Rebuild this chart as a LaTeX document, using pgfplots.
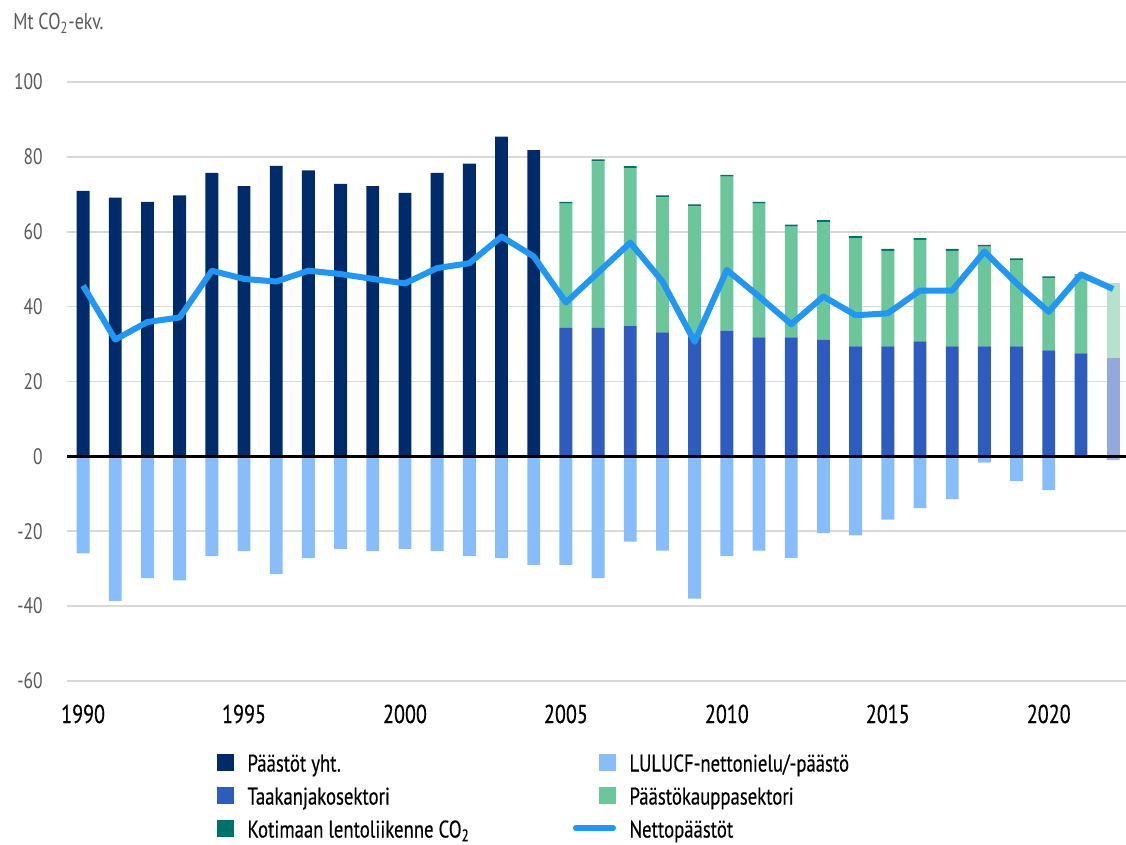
\documentclass[border=0pt]{standalone}
\usepackage{pgfplots}
\usepackage{pgfplotstable}
\pgfplotsset{compat=1.18}
\usepackage{fontspec}
\setmainfont{PT Sans}[FakeStretch=0.78]
\newfontfamily\heavy{PT Sans}[FakeStretch=0.78, FakeBold=0.4]

\definecolor{navy}{HTML}{002B6B}
\definecolor{taak}{HTML}{2D5BBE}
\definecolor{taakL}{HTML}{93A9DE}
\definecolor{paak}{HTML}{6BC69C}
\definecolor{paakL}{HTML}{B4E2CC}
\definecolor{lento}{HTML}{00706A}
\definecolor{lulu}{HTML}{88BDFB}
\definecolor{luluL}{HTML}{9DB4E6}
\definecolor{netc}{HTML}{2196F3}
\definecolor{gridc}{HTML}{D9D9D9}
\definecolor{tickgray}{HTML}{595959}

\pgfplotstableread{
year pyht taak taak22 paak paak22 lento lulucf lulucf22 netto
1990 70.9 0 0 0 0 0 -25.9 0 45.6
1991 69.1 0 0 0 0 0 -38.6 0 31.2
1992 68.0 0 0 0 0 0 -32.5 0 35.9
1993 69.7 0 0 0 0 0 -33.1 0 37.1
1994 75.7 0 0 0 0 0 -26.6 0 49.6
1995 72.2 0 0 0 0 0 -25.3 0 47.4
1996 77.6 0 0 0 0 0 -31.4 0 46.7
1997 76.4 0 0 0 0 0 -27.2 0 49.6
1998 72.8 0 0 0 0 0 -24.7 0 48.7
1999 72.2 0 0 0 0 0 -25.3 0 47.4
2000 70.4 0 0 0 0 0 -24.7 0 46.2
2001 75.7 0 0 0 0 0 -25.3 0 50.3
2002 78.2 0 0 0 0 0 -26.6 0 51.6
2003 85.4 0 0 0 0 0 -27.2 0 58.7
2004 81.8 0 0 0 0 0 -29.0 0 53.4
2005 0 34.3 0 33.2 0 0.5 -29.0 0 41.1
2006 0 34.3 0 44.5 0 0.5 -32.5 0 49.1
2007 0 34.8 0 42.2 0 0.5 -22.8 0 57.1
2008 0 33.1 0 36.1 0 0.5 -25.2 0 46.7
2009 0 31.9 0 34.9 0 0.5 -38.0 0 30.6
2010 0 33.6 0 41.1 0 0.5 -26.6 0 49.8
2011 0 31.8 0 35.7 0 0.5 -25.2 0 42.7
2012 0 31.8 0 29.6 0 0.5 -27.1 0 35.3
2013 0 31.2 0 31.4 0 0.5 -20.5 0 42.7
2014 0 29.4 0 28.9 0 0.5 -21.1 0 37.7
2015 0 29.4 0 25.5 0 0.5 -16.9 0 38.2
2016 0 30.7 0 27.1 0 0.5 -13.8 0 44.3
2017 0 29.4 0 25.5 0 0.5 -11.4 0 44.3
2018 0 29.4 0 26.6 0 0.5 -1.7 0 54.7
2019 0 29.4 0 23.0 0 0.5 -6.6 0 46.2
2020 0 28.3 0 19.4 0 0.4 -9.0 0 38.6
2021 0 27.5 0 20.8 0 0.3 0 0 48.6
2022 0 0 26.3 0 19.9 0 0 -1.0 44.7
}\data

\pgfplotsset{
  base/.style={
    scale only axis, width=529.5bp, height=299.5bp,
    xmin=1989.5, xmax=2022.4, ymin=-60, ymax=100,
    axis line style={draw=none}, tick style={draw=none},
  },
  sq/.style={legend image code/.code={%
      \path[draw=none, fill=none] (0bp,-4.25bp) rectangle (21.5bp,4.25bp);
      \fill[##1] (13bp,-4.25bp) rectangle (21.5bp,4.25bp);}},
  ln/.style={legend image code/.code={%
      \path[draw=none, fill=none] (0bp,-4.25bp) rectangle (21.5bp,4.25bp);
      \draw[##1] (1.4bp,0bp) -- (20.1bp,0bp);}},
}

\newcommand{\colA}[1]{\makebox[162.75bp][l]{#1}}

\begin{document}
\begin{tikzpicture}
\path[use as bounding box] (-33.5bp,-82bp) rectangle (529.5bp,340.5bp);

\begin{axis}[base,
  ybar stacked, bar width=0.4,
  ymajorgrids, grid style={color=gridc, line width=0.85bp},
  ytick={-60,-40,...,100},
  xtick={1990,1995,...,2020},
  /pgf/number format/assume math mode=true,
  /pgf/number format/1000 sep={},
  yticklabel style={font=\fontsize{11.2bp}{13bp}\selectfont, text=tickgray, anchor=east, inner sep=0pt, xshift=-12bp},
  xticklabel style={font=\heavy\fontsize{12.9bp}{15bp}\selectfont, text=black, anchor=base, inner sep=0pt, yshift=-21bp},
]
\addplot[fill=navy, draw=none] table[x=year, y=pyht] {\data};
\addplot[fill=taak, draw=none] table[x=year, y=taak] {\data};
\addplot[fill=taakL, draw=none] table[x=year, y=taak22] {\data};
\addplot[fill=paak, draw=none] table[x=year, y=paak] {\data};
\addplot[fill=paakL, draw=none] table[x=year, y=paak22] {\data};
\addplot[fill=lento, draw=none] table[x=year, y=lento] {\data};
\end{axis}

\begin{axis}[base,
  xtick=\empty, ytick=\empty,
  legend columns=2,
  legend cell align=left,
  legend style={at={(0.1171,-0.1194)}, anchor=north west, draw=none, fill=none,
    inner sep=0pt, outer sep=0pt, row sep=7bp,
    font=\heavy\fontsize{12bp}{14bp}\selectfont,
    nodes={inner sep=0pt, text height=9.5bp, text depth=0bp},
    /tikz/every odd column/.style={column sep=6.75bp},
    /tikz/every even column/.style={column sep=0bp}},
]
\addplot[ybar, bar width=0.4, bar shift=0pt, fill=lulu, draw=none, forget plot] table[x=year, y=lulucf] {\data};
\addplot[ybar, bar width=0.4, bar shift=0pt, fill=luluL, draw=none, forget plot] table[x=year, y=lulucf22] {\data};
\draw[black, line width=1.5bp] (axis cs:1989.5,0) -- (axis cs:2022.4,0);
\addplot[sharp plot, color=netc, line width=3bp, line join=round, mark=none, forget plot] table[x=year, y=netto] {\data};

\addlegendimage{sq, fill=navy, draw=none}
\addlegendentry{\colA{Päästöt yht.}}
\addlegendimage{sq, fill=lulu, draw=none}
\addlegendentry{LULUCF-nettonielu/-päästö}
\addlegendimage{sq, fill=taak, draw=none}
\addlegendentry{\colA{Taakanjakosektori}}
\addlegendimage{sq, fill=paak, draw=none}
\addlegendentry{Päästökauppasektori}
\addlegendimage{sq, fill=lento, draw=none}
\addlegendentry{\colA{Kotimaan lentoliikenne CO\textsubscript{2}}}
\addlegendimage{ln, color=netc, line width=2.8bp, line cap=round}
\addlegendentry{Nettopäästöt}
\end{axis}

\node[anchor=base west, inner sep=0pt, text=tickgray, font=\fontsize{11.5bp}{13bp}\selectfont] at (-27bp,325.5bp) {Mt CO\textsubscript{2}-ekv.};
\end{tikzpicture}
\end{document}
